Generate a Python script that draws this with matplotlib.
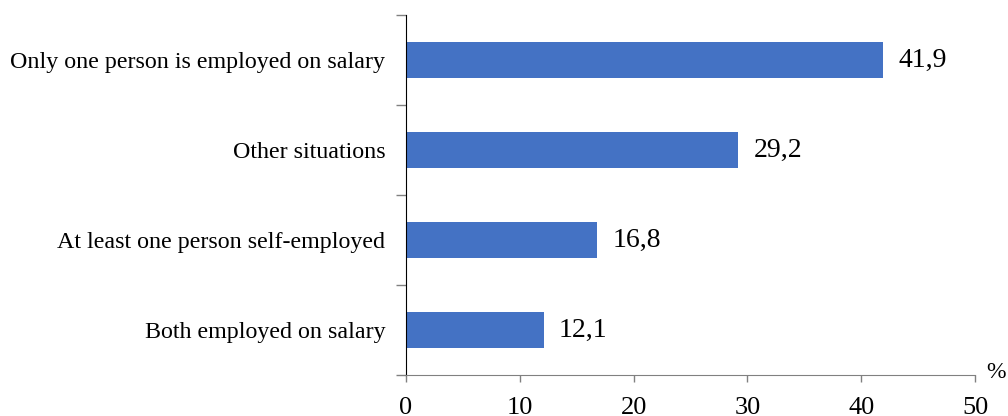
import numpy as np
import matplotlib.pyplot as plt
from matplotlib.ticker import FixedLocator

plt.rcParams['font.family'] = ['Liberation Serif', 'DejaVu Serif']

categories = ["Both employed on salary",
              "At least one person self-employed",
              "Other situations",
              "Only one person is employed on salary"]
values = [12.1, 16.8, 29.2, 41.9]
value_labels = ["12,1", "16,8", "29,2", "41,9"]
xticks = [0, 10, 20, 30, 40, 50]

fig = plt.figure(figsize=(10.08, 4.16), dpi=100)
ax = fig.add_axes([406/1008, 1 - 375/416, (975 - 406)/1008, 360/416])

y = np.arange(len(categories))
ax.barh(y, values, height=0.39, color="#4472C4")

for yi, v, lab in zip(y, values, value_labels):
    ax.annotate(lab, (v, yi), xytext=(11, 0), textcoords="offset points",
                ha="left", va="center", fontsize=20)

ax.set_xlim(0, 50)
ax.set_ylim(-0.5, 3.5)
ax.set_xticks(xticks)
ax.set_xticklabels([str(t) for t in xticks], fontsize=19)
ax.set_yticks(y)
ax.set_yticklabels(categories, fontsize=17.3)
ax.yaxis.set_minor_locator(FixedLocator([-0.5, 0.5, 1.5, 2.5, 3.5]))
ax.tick_params(axis="y", which="major", length=0, pad=15)
ax.tick_params(axis="y", which="minor", length=7, color="#808080", width=1)
ax.tick_params(axis="x", length=5, color="#808080", width=1, pad=11)

ax.spines["top"].set_visible(False)
ax.spines["right"].set_visible(False)
ax.spines["left"].set_color("black")
ax.spines["bottom"].set_color("#808080")

fig.text(996/1008, 1 - 378/416, "%", fontsize=17, ha="center", va="baseline")

fig.savefig("out.png", dpi=100)
